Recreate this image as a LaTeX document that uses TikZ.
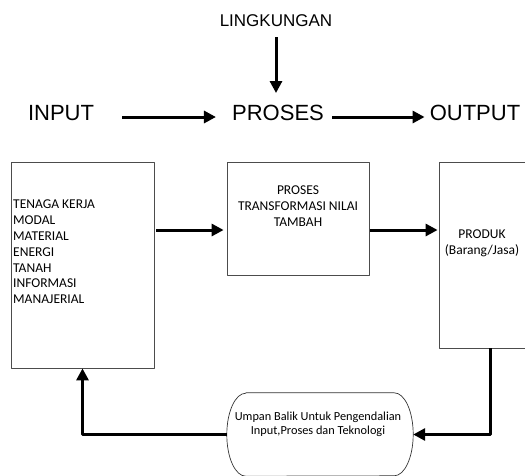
\documentclass[tikz,border=0pt]{standalone}
\usepackage{fontspec}
\setmainfont{Liberation Sans}
\newfontfamily\carlito{Carlito}
\usetikzlibrary{arrows.meta}
\begin{document}
\begin{tikzpicture}[x=1pt, y=-1pt, line join=round,
	boxline/.style={draw=black!70, line width=0.8pt},
	fatarrow/.style={line width=3pt, -{Triangle[length=12pt,width=12pt]}},
	bigword/.style={inner sep=0pt, font=\fontsize{22}{26}\selectfont},
	boxtext/.style={inner sep=0pt, font=\carlito\fontsize{13.5}{15.8}\selectfont}]
	\useasboundingbox (0,0) rectangle (525,475);
	% baris atas
	\node[inner sep=0pt, font=\fontsize{17}{20}\selectfont] (lingk) at (276,20.8) {LINGKUNGAN};
	\node[bigword] (input) at (61,113) {INPUT};
	\node[bigword] (proses) at (278,113) {PROSES};
	\node[bigword] (output) at (475,113) {OUTPUT};
	\draw[fatarrow, shorten <=10pt, shorten >=12pt] (lingk.south) -- (lingk.south |- proses.north);
	\draw[fatarrow, shorten <=28pt, shorten >=16pt] ([yshift=-4pt]input.east) -- ([yshift=-4pt]proses.west);
	\draw[fatarrow, shorten <=8pt, shorten >=5pt] ([yshift=-4pt]proses.east) -- ([yshift=-4pt]output.west);
	% kotak
	\node[boxline, minimum width=143pt, minimum height=206pt] (inbox) at (82.5,265) {};
	\node[boxline, minimum width=142pt, minimum height=113pt] (proc) at (298,218.5) {};
	\node[boxline, minimum width=102pt, minimum height=186pt] (outbox) at (490,255) {};
	\node[boxtext, anchor=north west, align=left] (inlist) at (13,200)
		{TENAGA KERJA\\MODAL\\MATERIAL\\ENERGI\\TANAH\\INFORMASI\\MANAJERIAL};
	\node[boxtext, anchor=north, align=center] (proctext) at (298,186)
		{PROSES\\TRANSFORMASI NILAI\\TAMBAH};
	\node[boxtext, anchor=north, align=center] (outtext) at (482,230)
		{PRODUK\\(Barang/Jasa)};
	\coordinate (rowA) at (0,230);
	\draw[fatarrow, shorten <=2pt, shorten >=3pt] (inbox.east |- rowA) -- (proc.west |- rowA);
	\draw[fatarrow, shorten <=1pt, shorten >=1pt] (proc.east |- rowA) -- (outbox.west |- rowA);
	% umpan balik
	\node[inner sep=0pt, minimum width=186pt, minimum height=83pt] (umpan) at (320,434.5) {};
	\draw[draw=black!80, line width=0.7pt] ([xshift=19pt]umpan.north west) -- ([xshift=-19pt]umpan.north east)
		arc[start angle=90, end angle=-90, x radius=19pt, y radius=41.5pt]
		-- ([xshift=19pt]umpan.south west)
		arc[start angle=270, end angle=90, x radius=19pt, y radius=41.5pt] -- cycle;
	\node[inner sep=0pt, anchor=north, align=center, font=\carlito\fontsize{12.3}{14}\selectfont] (umpantext) at (318,412)
		{Umpan Balik Untuk Pengendalian\\Input,Proses dan Teknologi};
	\draw[fatarrow] (outbox.south) |- (umpan.east);
	\draw[fatarrow] (umpan.west) -| (inbox.south);
\end{tikzpicture}
\end{document}
